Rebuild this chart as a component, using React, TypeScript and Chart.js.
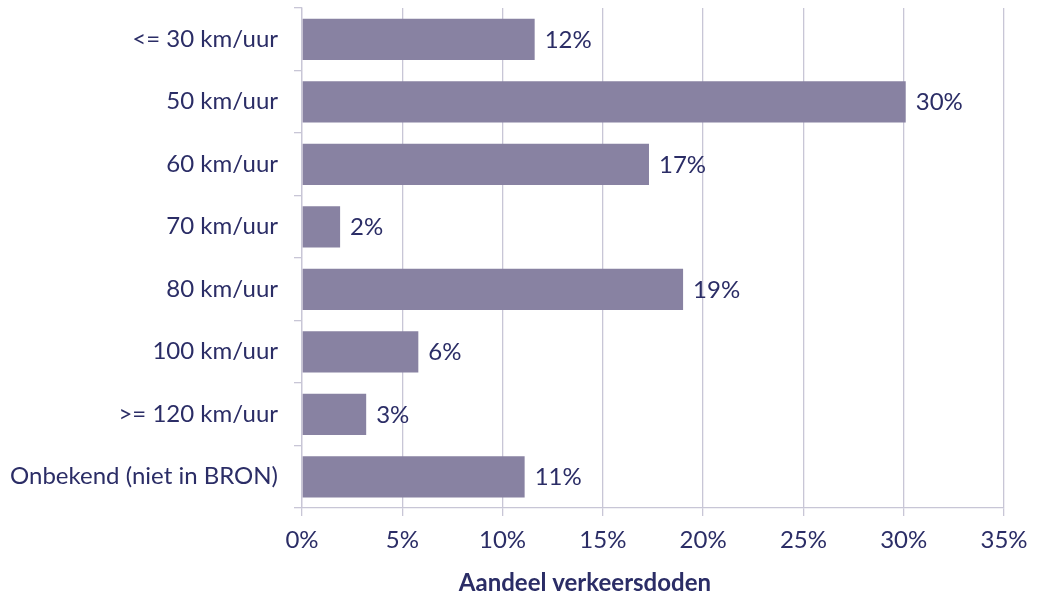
import React, { useEffect, useRef } from "react";
import { Chart, registerables } from "chart.js";

Chart.register(...registerables);

const categories = [
  "<= 30 km/uur",
  "50 km/uur",
  "60 km/uur",
  "70 km/uur",
  "80 km/uur",
  "100 km/uur",
  ">= 120 km/uur",
  "Onbekend (niet in BRON)",
];
const shares = [11.6, 30.1, 17.3, 1.9, 19.0, 5.8, 3.2, 11.1];
const axisTitle = "Aandeel verkeersdoden";

const FONT = "Lato, 'Open Sans', sans-serif";
const TEXT = "#2b2d66";
const BAR = "#8882a2";
const GRID = "#c8c6d6";

const valueLabels = {
  id: "valueLabels",
  afterDatasetsDraw(chart: any) {
    const ctx = chart.ctx;
    const meta = chart.getDatasetMeta(0);
    ctx.save();
    ctx.font = `24px ${FONT}`;
    ctx.fillStyle = TEXT;
    ctx.textAlign = "left";
    ctx.textBaseline = "middle";
    meta.data.forEach((el: any, i: number) => {
      ctx.fillText(Math.round(shares[i]) + "%", el.x + 10, el.y + 1);
    });
    ctx.restore();
  },
};

const bottomTitle = {
  id: "bottomTitle",
  afterDraw(chart: any) {
    const ctx = chart.ctx;
    const a = chart.chartArea;
    ctx.save();
    ctx.font = `bold 24px ${FONT}`;
    ctx.fillStyle = TEXT;
    ctx.textAlign = "center";
    ctx.textBaseline = "middle";
    ctx.fillText(axisTitle, a.left + (a.right - a.left) * 0.403, a.bottom + 75);
    ctx.restore();
  },
};

export default function App() {
  const ref = useRef<HTMLCanvasElement>(null);
  useEffect(() => {
    document.body.style.margin = "0";
    const chart = new Chart(ref.current!, {
      type: "bar",
      data: {
        labels: categories,
        datasets: [
          {
            data: shares,
            backgroundColor: BAR,
            barPercentage: 0.66,
            categoryPercentage: 1,
          },
        ],
      },
      options: {
        indexAxis: "y",
        animation: false,
        responsive: false,
        layout: { padding: { top: 8, right: 37, left: 0, bottom: 0 } },
        plugins: { legend: { display: false }, tooltip: { enabled: false } },
        scales: {
          x: {
            min: 0,
            max: 35,
            ticks: {
              stepSize: 5,
              color: TEXT,
              font: { family: FONT, size: 24 },
              padding: 10,
              callback: (v: any) => v + "%",
            },
            grid: { color: GRID, tickLength: 8, lineWidth: 1.3 },
            border: { color: GRID, width: 1.3 },
            afterFit: (s: any) => {
              s.height = 89;
              s.paddingTop = 0;
              s.paddingBottom = 0;
            },
          },
          y: {
            ticks: {
              color: TEXT,
              font: { family: FONT, size: 24 },
              padding: 16,
            },
            grid: {
              color: GRID,
              drawOnChartArea: false,
              tickLength: 8,
              offset: true,
              lineWidth: 1.3,
            },
            border: { color: GRID, width: 1.3 },
            afterFit: (s: any) => {
              s.width = 302;
              s.paddingTop = 0;
              s.paddingBottom = 0;
            },
          },
        },
      },
      plugins: [valueLabels, bottomTitle],
    });
    return () => chart.destroy();
  }, []);
  return (
    <div style={{ width: 1041, height: 597 }}>
      <canvas ref={ref} width={1041} height={597} style={{ display: "block" }} />
    </div>
  );
}
